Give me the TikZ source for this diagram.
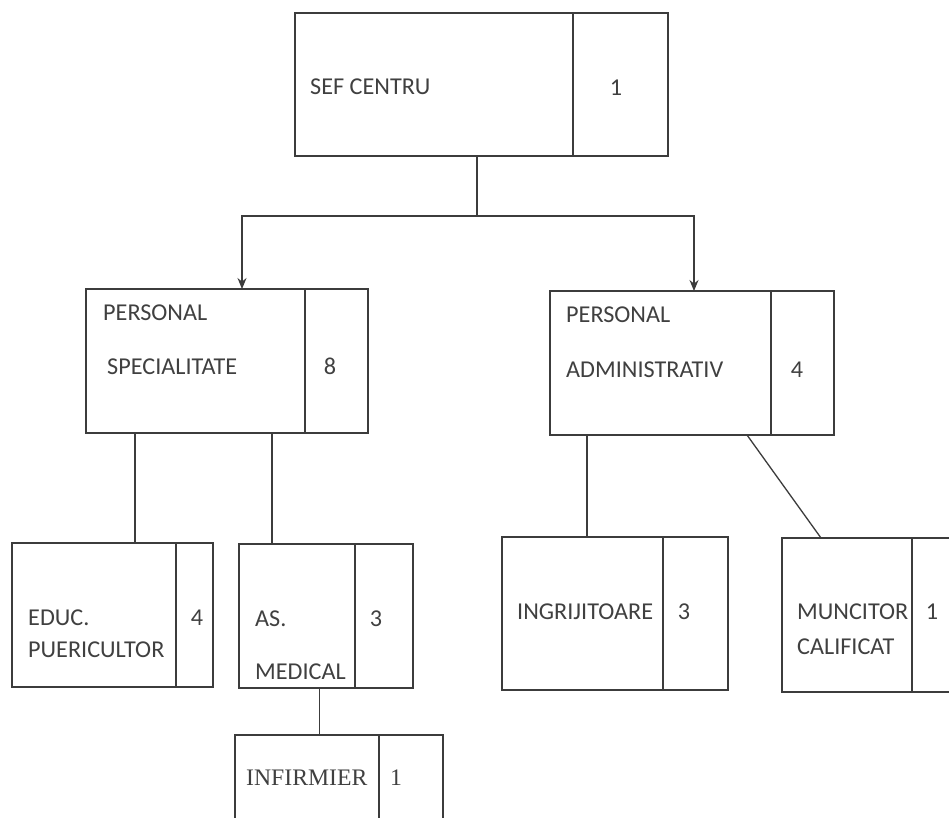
\documentclass[tikz,border=0pt]{standalone}
\usepackage{fontspec}
\setmainfont{Carlito}
\newfontfamily\seriffont{Liberation Serif}
\usetikzlibrary{arrows.meta,calc}
\definecolor{ink}{HTML}{3C3C3C}
\definecolor{txt}{HTML}{404040}
\tikzset{
  cell/.style={draw=ink, line width=1.3pt, rectangle, inner sep=0pt, outer sep=0pt, anchor=north west},
  lbl/.style={text=txt, inner sep=0pt, anchor=base west, font=\fontsize{24.2}{29}\selectfont},
  num/.style={text=txt, inner sep=0pt, anchor=base, font=\fontsize{24.2}{29}\selectfont},
  conn/.style={draw=ink, line width=1.3pt},
  arr/.style={conn, -{Stealth[length=11pt,width=9pt]}},
}
\begin{document}
\begin{tikzpicture}[x=1pt,y=-1pt]
\useasboundingbox (0,0) rectangle (949,817);
\clip (0,0) rectangle (949,817);
\fill[white] (0,0) rectangle (949,817);
% SEF CENTRU
\node[cell, minimum width=278pt, minimum height=143pt] (sefN) at (295,13) {};
\node[cell, minimum width=95pt, minimum height=143pt] (sefC) at (sefN.north east) {};
\node[lbl] (sefT) at (310,94) {SEF CENTRU};
\node[num] (sefV) at (616,95) {1};
% PERSONAL SPECIALITATE
\node[cell, minimum width=219pt, minimum height=144pt] (psN) at (86,289) {};
\node[cell, minimum width=63pt, minimum height=144pt] (psC) at (psN.north east) {};
\node[lbl] (psT1) at (103,320) {PERSONAL};
\node[lbl] (psT2) at (107,374) {SPECIALITATE};
\node[num] (psV) at (330,374) {8};
% PERSONAL ADMINISTRATIV
\node[cell, minimum width=221pt, minimum height=144pt] (paN) at (550,291) {};
\node[cell, minimum width=63pt, minimum height=144pt] (paC) at (paN.north east) {};
\node[lbl] (paT1) at (566,322) {PERSONAL};
\node[lbl] (paT2) at (566,377) {ADMINISTRATIV};
\node[num] (paV) at (797,377) {4};
% EDUC. PUERICULTOR
\node[cell, minimum width=164pt, minimum height=144pt] (educN) at (12,543) {};
\node[cell, minimum width=37pt, minimum height=144pt] (educC) at (educN.north east) {};
\node[lbl] (educT1) at (28,625) {EDUC.};
\node[lbl] (educT2) at (28,657) {PUERICULTOR};
\node[num] (educV) at (197,625) {4};
% AS. MEDICAL
\node[cell, minimum width=116pt, minimum height=144pt] (asN) at (239,544) {};
\node[cell, minimum width=58pt, minimum height=144pt] (asC) at (asN.north east) {};
\node[lbl] (asT1) at (255,626) {AS.};
\node[lbl] (asT2) at (255,679) {MEDICAL};
\node[num] (asV) at (376,626) {3};
% INFIRMIER
\node[cell, minimum width=144pt, minimum height=110pt] (infN) at (235,735) {};
\node[cell, minimum width=64pt, minimum height=110pt] (infC) at (infN.north east) {};
\node[lbl, font=\seriffont\fontsize{23.7}{28}\selectfont] (infT) at (246,785) {INFIRMIER};
\node[num, font=\seriffont\fontsize{23.7}{28}\selectfont] (infV) at (396,785) {1};
% INGRIJITOARE
\node[cell, minimum width=161pt, minimum height=153pt] (ingN) at (502,537) {};
\node[cell, minimum width=65pt, minimum height=153pt] (ingC) at (ingN.north east) {};
\node[lbl] (ingT) at (517,619) {INGRIJITOARE};
\node[num] (ingV) at (684,619) {3};
% MUNCITOR CALIFICAT
\node[cell, minimum width=130pt, minimum height=154pt] (munN) at (782,538) {};
\node[cell, minimum width=60pt, minimum height=154pt] (munC) at (munN.north east) {};
\node[lbl] (munT1) at (797,619) {MUNCITOR};
\node[lbl] (munT2) at (797,654) {CALIFICAT};
\node[num] (munV) at (932,619) {1};
% connectors
\coordinate (j) at (477,216);
\draw[conn] (sefN.south -| j) -- (j);
\draw[arr] (j) -| ($(psN.north west)+(156,0)$);
\draw[arr] (j) -| ($(paN.north west)+(144,0)$);
\coordinate (e1) at (135,0);
\coordinate (e2) at (272,0);
\coordinate (e3) at (587,0);
\coordinate (e4) at (319,0);
\draw[conn] (psN.south -| e1) -- (educN.north -| e1);
\draw[conn] (psN.south -| e2) -- (asN.north -| e2);
\draw[conn] (paN.south -| e3) -- (ingN.north -| e3);
\draw[conn] ($(paN.south west)+(197,0)$) -- ($(munN.north west)+(39,0)$);
\draw[conn, line width=0.9pt] (asN.south -| e4) -- (infN.north -| e4);
\end{tikzpicture}
\end{document}
